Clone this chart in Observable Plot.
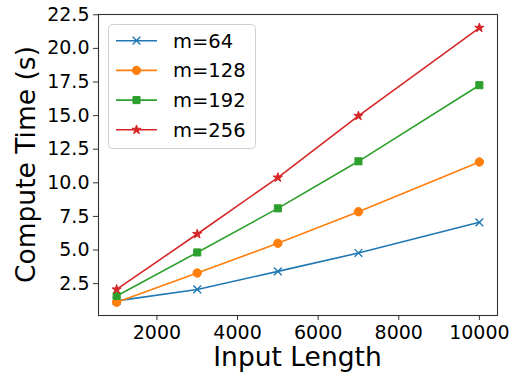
<!DOCTYPE html>
<html><head><meta charset="utf-8">
<script src="https://cdn.jsdelivr.net/npm/d3@7"></script>
<script src="https://cdn.jsdelivr.net/npm/@observablehq/plot@0.6"></script>
<style>body{margin:0;background:#fff}</style>
</head><body><div id="chart"></div>
<script>
const inputLengths = [1000, 3000, 5000, 7000, 10000];
const seriesNames = ["m=64", "m=128", "m=192", "m=256"];
const m64  = [1.22, 2.07, 3.41, 4.78, 7.06];
const m128 = [1.12, 3.29, 5.50, 7.85, 11.55];
const m192 = [1.58, 4.82, 8.10, 11.60, 17.26];
const m256 = [2.07, 6.19, 10.39, 14.98, 21.53];
const colors = ["#1f77b4", "#ff7f0e", "#2ca02c", "#d62728"];
const symbols = ["times", "circle", "square", "star"];
const markerR = [3.6, 4.2, 4.0, 2.9];
const xTicks = [2000, 4000, 6000, 8000, 10000];
const yTicks = [2.5, 5.0, 7.5, 10.0, 12.5, 15.0, 17.5, 20.0, 22.5];

const allSeries = [m64, m128, m192, m256];
const data = [];
seriesNames.forEach((s, i) => inputLengths.forEach((x, j) => data.push({series: s, x, y: allSeries[i][j]})));

const W = 529, H = 375, mL = 98, mR = 32, mT = 14, mB = 60;
const font = "DejaVu Sans";

const chart = Plot.plot({
  width: W, height: H,
  marginLeft: mL, marginRight: mR, marginTop: mT, marginBottom: mB,
  style: {fontFamily: font, background: "white", color: "black"},
  x: {domain: [550, 10450]},
  y: {domain: [0.13, 22.52]},
  color: {domain: seriesNames, range: colors},
  marks: [
    Plot.axisX({ticks: xTicks, tickFormat: d => String(d), tickSize: 5, tickPadding: 5, fontSize: 19, label: null, stroke: "#333"}),
    Plot.axisY({ticks: yTicks, tickFormat: d => d.toFixed(1), tickSize: 5, tickPadding: 4, fontSize: 19, label: null, stroke: "#333"}),
    Plot.line(data, {x: "x", y: "y", z: "series", stroke: "series", strokeWidth: 1.6}),
    ...seriesNames.map((s, i) => Plot.dot(data.filter(d => d.series === s), {
      x: "x", y: "y", symbol: symbols[i], r: markerR[i],
      fill: symbols[i] === "times" ? "none" : "series", stroke: "series",
      strokeWidth: symbols[i] === "times" ? 1.4 : 1
    })),
    Plot.frame({stroke: "#333", strokeWidth: 1.1})
  ]
});
document.getElementById("chart").append(chart);

const svg = d3.select(chart);
svg.append("text").attr("x", (mL + W - mR) / 2).attr("y", 366)
  .attr("text-anchor", "middle").attr("font-family", font).attr("font-size", 26.5).attr("fill", "black")
  .text("Input Length");
svg.append("text").attr("transform", `translate(35,${(mT + H - mB) / 2}) rotate(-90)`)
  .attr("text-anchor", "middle").attr("font-family", font).attr("font-size", 26.5).attr("fill", "black")
  .text("Compute Time (s)");

// legend
const lg = svg.append("g");
lg.append("rect").attr("x", 108.5).attr("y", 24.5).attr("width", 147).attr("height", 124)
  .attr("rx", 4).attr("fill", "white").attr("fill-opacity", 0.8).attr("stroke", "#d0d0d0");
const symMap = {times: d3.symbolTimes, circle: d3.symbolCircle, square: d3.symbolSquare, star: d3.symbolStar};
seriesNames.forEach((s, i) => {
  const yy = 40.7 + i * 29.7;
  lg.append("line").attr("x1", 116).attr("x2", 157).attr("y1", yy).attr("y2", yy)
    .attr("stroke", colors[i]).attr("stroke-width", 1.6);
  const sym = symbols[i];
  lg.append("path").attr("transform", `translate(136.5,${yy})`)
    .attr("d", d3.symbol(symMap[sym], Math.PI * markerR[i] * markerR[i])())
    .attr("fill", sym === "times" ? "none" : colors[i]).attr("stroke", colors[i])
    .attr("stroke-width", sym === "times" ? 1.4 : 1);
  lg.append("text").attr("x", 173).attr("y", yy).attr("dy", "0.36em").attr("text-anchor", "start")
    .attr("font-family", font).attr("font-size", 19.5).attr("fill", "black").text(s);
});
</script></body></html>
